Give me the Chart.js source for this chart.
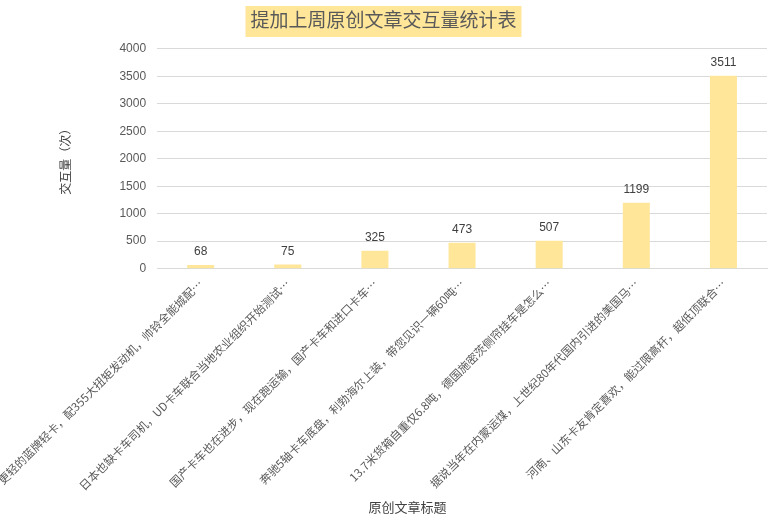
<!DOCTYPE html>
<html>
<head>
<meta charset="utf-8">
<script src="https://cdn.jsdelivr.net/npm/chart.js@4"></script>
<style>
  html, body { margin: 0; padding: 0; background: #fff; }
  #wrap { width: 779px; height: 530px; }
</style>
</head>
<body>
<div id="wrap"><canvas id="barchart"></canvas></div>
<script>
// 文章标题与交互量
const titles = [
    '更轻的蓝牌轻卡，配355大扭矩发动机，帅铃全能城配…',
    '日本也缺卡车司机，UD卡车联合当地农业组织开始测试…',
    '国产卡车也在进步，现在跑运输，国产卡车和进口卡车…',
    '奔驰5轴卡车底盘，利勃海尔上装，带您见识一辆60吨…',
    '13.7米货箱自重仅6.8吨，德国施密茨侧帘挂车是怎么…',
    '据说当年在内蒙运煤，上世纪80年代国内引进的美国马…',
    '河南、山东卡友肯定喜欢，能过限高杆，超低顶联合…'
];
const interactions = [68, 75, 325, 473, 507, 1199, 3511];
const yTicks = [0, 500, 1000, 1500, 2000, 2500, 3000, 3500, 4000];
const xTitle = '原创文章标题';

const gray = '#595959';
const cjk = '"Noto Sans CJK SC", "Noto Sans", sans-serif';
const num = '"Liberation Sans", "Noto Sans", sans-serif';

// 标题背景色块
const titleBg = {
    id: 'titleBg',
    beforeDraw(chart) {
        const t = chart.titleBlock;
        if (!t) return;
        const ctx = chart.ctx;
        ctx.save();
        ctx.font = '19px ' + cjk;
        const w = ctx.measureText(t.options.text).width + 10;
        const cx = t.left + t.width / 2;
        ctx.fillStyle = '#FFE699';
        ctx.fillRect(cx - w / 2, 6, w, 31);
        ctx.restore();
    }
};

// 柱子上方数值 + 横轴标题（原图中横轴标题偏左，不在绘图区正中）
const valueLabels = {
    id: 'valueLabels',
    afterDatasetsDraw(chart) {
        const ctx = chart.ctx;
        const meta = chart.getDatasetMeta(0);
        ctx.save();
        ctx.font = '12px ' + num;
        ctx.fillStyle = '#404040';
        ctx.textAlign = 'center';
        ctx.textBaseline = 'bottom';
        meta.data.forEach((bar, i) => {
            ctx.fillText(String(interactions[i]), bar.x, bar.y - 7);
        });
        ctx.font = '13px ' + cjk;
        ctx.textBaseline = 'middle';
        ctx.fillText(xTitle, chart.width / 2 + 18, chart.height - 23);
        ctx.restore();
    }
};

var ctx = document.getElementById('barchart').getContext('2d');
var myChart = new Chart(ctx, {
    type: 'bar',
    data: {
        labels: titles,
        datasets: [{
            data: interactions,
            backgroundColor: '#FFE699',
            borderWidth: 0,
            barPercentage: 0.31,
            categoryPercentage: 1
        }]
    },
    options: {
        responsive: true,
        maintainAspectRatio: false,
        animation: false,
        layout: { padding: { left: 0, right: 12, top: 2, bottom: 37 } },
        plugins: {
            legend: { display: false },
            tooltip: { enabled: false },
            title: {
                display: true,
                text: '提加上周原创文章交互量统计表',
                color: gray,
                font: { family: cjk, size: 19, weight: 'normal' },
                padding: { top: 6, bottom: 18 }
            }
        },
        scales: {
            x: {
                grid: { display: false },
                border: { color: '#d9d9d9' },
                // 第一个标签允许超出左边界（像原图一样被裁掉）
                afterFit(axis) { axis.paddingLeft = 0; },
                ticks: {
                    autoSkip: false,
                    minRotation: 45,
                    maxRotation: 45,
                    padding: 0,
                    color: gray,
                    font: { family: cjk, size: 11.5 }
                }
            },
            y: {
                min: 0,
                max: 4000,
                afterBuildTicks(axis) {
                    axis.ticks = yTicks.map(v => ({ value: v }));
                },
                grid: { color: '#d9d9d9', drawTicks: false },
                border: { display: false },
                ticks: {
                    color: gray,
                    padding: 11,
                    font: { family: num, size: 12 },
                    callback: v => String(v)
                },
                title: {
                    display: true,
                    text: '交互量（次）',
                    color: '#404040',
                    padding: { top: 58, bottom: 36 },
                    font: { family: cjk, size: 12 }
                }
            }
        }
    },
    plugins: [titleBg, valueLabels]
});
</script>
</body>
</html>
